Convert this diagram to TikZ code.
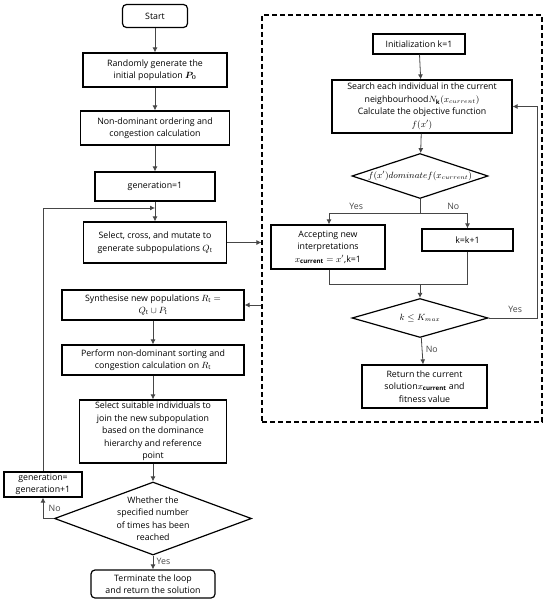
\documentclass[tikz,border=0pt]{standalone}
\usepackage{amsmath,amssymb}
\usepackage{fontspec}
\setmainfont{Open Sans}
\usepackage{tikz}
\usetikzlibrary{arrows.meta,positioning,calc,shapes.geometric}
\definecolor{LineGray}{RGB}{70,70,70}

\begin{document}
\begin{tikzpicture}[x=1pt,y=-1pt,
    font=\fontsize{8.8}{12.5}\selectfont,
    box/.style={draw, line width=1.2pt, align=center, inner sep=1pt},
    term/.style={box, rounded corners=4pt},
    cond/.style={draw, diamond, line width=1.2pt, inner sep=0pt},
    link/.style={-{Latex[length=5pt,width=5pt]}, line width=0.8pt, LineGray},
    line/.style={line width=0.8pt, LineGray}]
  \useasboundingbox (0,0) rectangle (550,602);
  % main loop
  \node[term, minimum width=65pt, minimum height=23pt] (start) at (155,16) {Start};
  \node[box, minimum width=144pt, minimum height=34pt] (init) at (155,70) {Randomly generate the\\initial population $\boldsymbol{P_0}$};
  \node[box, minimum width=149pt, minimum height=34pt] (nondom) at (155,128) {Non-dominant ordering and\\congestion calculation};
  \node[box, minimum width=120pt, minimum height=29pt] (gen1) at (155,186.5) {generation=1};
  \node[box, minimum width=143pt, minimum height=41pt] (select) at (155,242.5) {Select, cross, and mutate to\\generate subpopulations $Q_{\mathrm{t}}$};
  \node[box, minimum width=182pt, minimum height=30pt] (synth) at (153,305) {Synthesise new populations $R_{\mathrm{t}}=$\\$Q_{\mathrm{t}}\cup P_{\mathrm{t}}$};
  \node[box, minimum width=182pt, minimum height=30pt] (perform) at (153,360) {Perform non-dominant sorting and\\congestion calculation on $R_{\mathrm{t}}$};
  \node[box, minimum width=147pt, minimum height=63pt] (suitable) at (153,431.5) {Select suitable individuals to\\join the new subpopulation\\based on the dominance\\hierarchy and reference\\point};
  \node[cond, minimum width=197pt, minimum height=73pt, label={[align=center]center:{Whether the\\specified number\\of times has been\\reached}}] (times) at (153,518.5) {};
  \node[box, minimum width=78pt, minimum height=25pt] (genp) at (43,484.5) {generation=\\generation+1};
  \node[term, minimum width=124pt, minimum height=28pt] (stop) at (153,584) {Terminate the loop\\and return the solution};
  \coordinate (loopin) at (155,208);
  % local search
  \node[draw, dash pattern=on 5pt off 3pt, line width=1.2pt, minimum width=280pt, minimum height=407pt] (vns) at (402,218.5) {};
  \node[box, minimum width=92pt, minimum height=20pt] (kinit) at (419,44) {Initialization k=1};
  \node[box, minimum width=180pt, minimum height=53pt] (search) at (422,106.5) {Search each individual in the current\\neighbourhood$N_{\mathbf{k}}(x_{current})$\\Calculate the objective function\\$f(x')$};
  \node[cond, minimum width=136pt, minimum height=45pt, label={center:{$f(x')dominatef(x_{current})$}}] (dom) at (420,176) {};
  \node[box, minimum width=114pt, minimum height=44pt] (accept) at (328,247) {Accepting new\\interpretations\\$x_{\mathbf{current}}=x'$,k=1};
  \node[box, minimum width=91pt, minimum height=22pt] (kinc) at (467.5,240) {k=k+1};
  \node[cond, minimum width=136pt, minimum height=39pt, label={center:{$k\le K_{max}$}}] (kmax) at (420,318) {};
  \node[box, minimum width=125pt, minimum height=43pt] (ret) at (424.5,386.5) {Return the current\\solution$x_{\mathbf{current}}$ and\\fitness value};
  \coordinate (split) at (420,213);
  \coordinate (merge) at (420,284);
  \coordinate (back) at (537,318);
  % arrows
  \draw[link] (start) -- (init);
  \draw[link] (init) -- (nondom);
  \draw[link] (nondom) -- (gen1);
  \draw[link] (gen1) -- (select);
  \draw[link] (select.east) -- (select.east -| vns.west);
  \draw[link] (vns.west |- synth.east) -- (synth.east);
  \draw[link] (synth) -- (perform);
  \draw[link] (perform) -- (suitable);
  \draw[link] (suitable) -- (times);
  \draw[link] (times) -- node[right, pos=0.4] {Yes} (stop);
  \draw[link] (times.west) -| node[pos=0.75, right=2pt] {No} (genp.south);
  \draw[link] (genp.north) |- (loopin);
  \draw[link] (kinit) -- (search);
  \draw[link] (search) -- (dom);
  \draw[line] (dom.south) -- (split);
  \draw[link] (split) -| node[pos=0.35, above] {Yes} (accept.north -| 329,0);
  \draw[link] (split) -| node[pos=0.35, above] {No} (kinc.north);
  \draw[line] (accept.south -| 329,0) |- (merge);
  \draw[line] (kinc.south) |- (merge);
  \draw[link] (merge) -- (kmax);
  \draw[link] (kmax.east) -- node[pos=0.55, above=2pt] {Yes} (back) |- (search.east);
  \draw[link] (kmax) -- node[right, pos=0.45] {No} (ret);
\end{tikzpicture}
\end{document}
